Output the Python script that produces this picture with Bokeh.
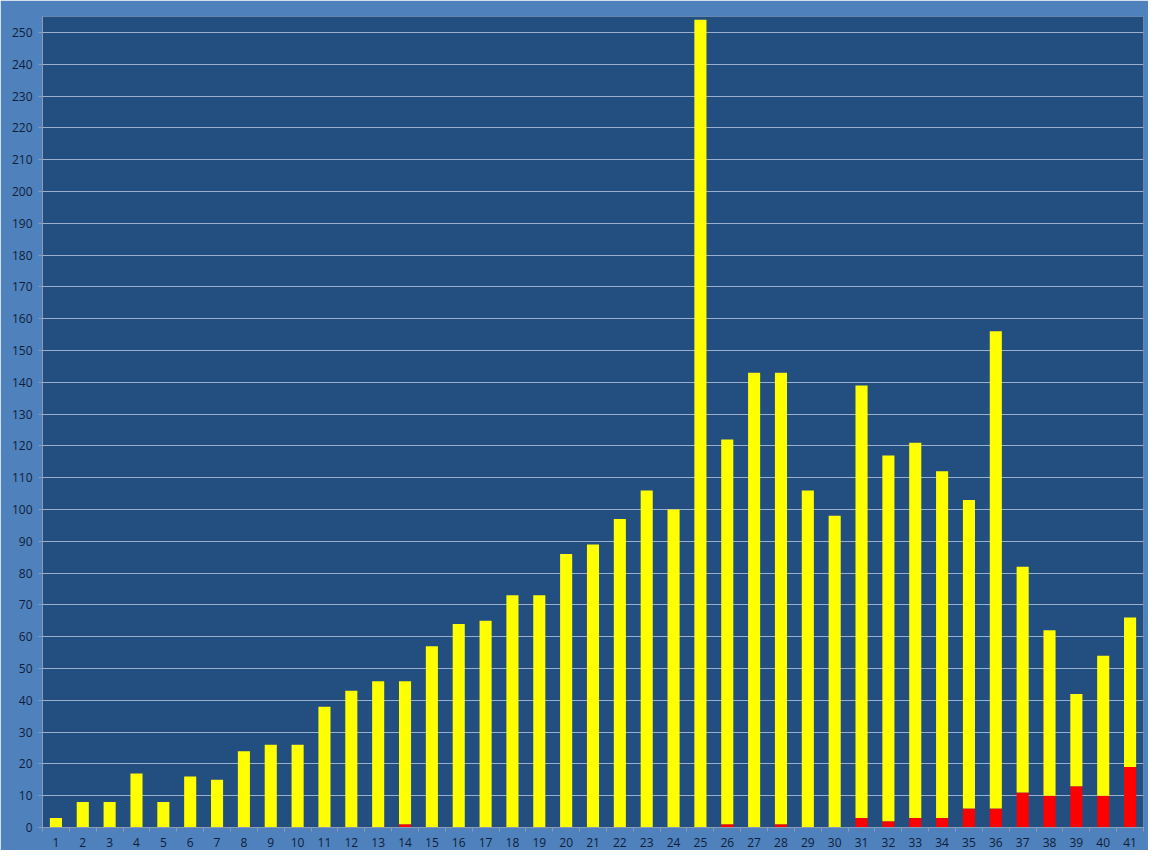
from bokeh.plotting import figure
from bokeh.models import ColumnDataSource, FixedTicker, Range1d
from bokeh.embed import file_html
from bokeh.resources import INLINE

categories = list(range(1, 42))
red_values = [0, 0, 0, 0, 0, 0, 0, 0, 0, 0,
              0, 0, 0, 1, 0, 0, 0, 0, 0, 0,
              0, 0, 0, 0, 0, 1, 0, 1, 0, 0,
              3, 2, 3, 3, 6, 6, 11, 10, 13, 10, 19]
yellow_values = [3, 8, 8, 17, 8, 16, 15, 24, 26, 26,
                 38, 43, 46, 45, 57, 64, 65, 73, 73, 86,
                 89, 97, 106, 100, 254, 121, 143, 142, 106, 98,
                 136, 115, 118, 109, 97, 150, 71, 52, 29, 44, 47]
y_ticks = list(range(0, 251, 10))

source = ColumnDataSource(dict(x=categories, red=red_values, yellow=yellow_values))

OUTER = "#4F81BD"
INNER = "#234F80"
TEXT = "#0F1E38"

p = figure(width=1148, height=850, output_backend="svg", toolbar_location=None,
           x_range=Range1d(0.5, 41.5), y_range=Range1d(0, 255),
           min_border_left=42, min_border_top=16, min_border_right=5, min_border_bottom=23)
p.background_fill_color = INNER
p.border_fill_color = OUTER
p.outline_line_color = None

p.vbar_stack(["red", "yellow"], x="x", width=0.45, source=source,
             color=["#FF0000", "#FFFF00"], line_color=None)

p.xgrid.grid_line_color = None
p.ygrid.grid_line_color = "#9AAFCB"
p.ygrid.grid_line_width = 1
p.ygrid.ticker = FixedTicker(ticks=y_ticks)

p.yaxis.ticker = FixedTicker(ticks=y_ticks)
p.xaxis.ticker = FixedTicker(ticks=categories, minor_ticks=[i + 0.5 for i in range(0, 42)])

for ax in (p.xaxis, p.yaxis):
    ax.axis_line_color = "#8C9CB4"
    ax.major_label_text_color = TEXT
    ax.major_label_text_font = "Open Sans"
    ax.major_label_text_font_size = "12px"
    ax.minor_tick_line_color = "#8C9CB4"

p.xaxis.major_tick_line_color = None
p.xaxis.minor_tick_out = 4
p.xaxis.minor_tick_in = 0
p.xaxis.major_label_standoff = 4
p.yaxis.major_tick_line_color = "#8C9CB4"
p.yaxis.major_tick_out = 4
p.yaxis.major_tick_in = 0
p.yaxis.minor_tick_line_color = None
p.yaxis.major_label_standoff = 6

open("out.html", "w").write(file_html(p, INLINE))
